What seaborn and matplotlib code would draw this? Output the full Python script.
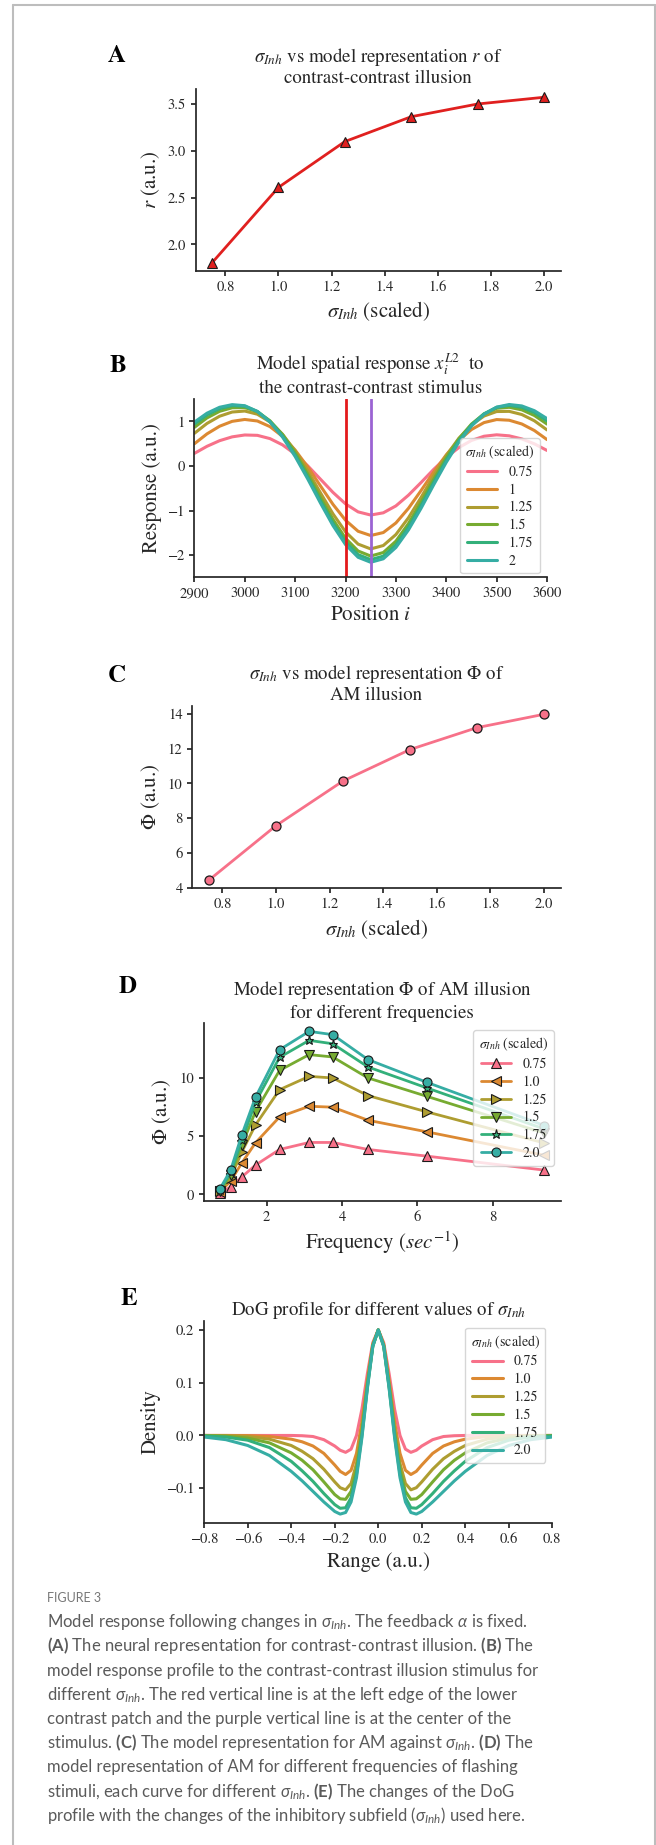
import numpy as np
import pandas as pd
import matplotlib
matplotlib.use("Agg")
import matplotlib.pyplot as plt
import seaborn as sns
from matplotlib.lines import Line2D

# ---------------- data ----------------
sigma_vals = [0.75, 1.0, 1.25, 1.5, 1.75, 2.0]
r_vals = [1.805, 2.611, 3.101, 3.367, 3.503, 3.575]
phi_vals = [4.44, 7.57, 10.14, 11.95, 13.21, 13.98]

sig_labels_B = ["0.75", "1", "1.25", "1.5", "1.75", "2"]
sig_labels = ["0.75", "1.0", "1.25", "1.5", "1.75", "2.0"]

B_x = [2900, 2925, 2950, 2975, 3000, 3025, 3050, 3075, 3100, 3125, 3150, 3175, 3200, 3225, 3250,
       3275, 3300, 3325, 3350, 3375, 3400, 3425, 3450, 3475, 3500, 3525, 3550, 3575, 3600]
B_075 = [0.283, 0.442, 0.568, 0.654, 0.696, 0.688, 0.615, 0.474, 0.267, 0.004, -0.293, -0.591, -0.849, -1.029, -1.100,
         -1.050, -0.895, -0.654, -0.370, -0.076, 0.192, 0.413, 0.573, 0.668, 0.700, 0.677, 0.608, 0.497, 0.349]
B_100 = [0.499, 0.721, 0.892, 1.002, 1.044, 1.010, 0.884, 0.665, 0.358, -0.021, -0.442, -0.859, -1.216, -1.464, -1.559,
         -1.493, -1.278, -0.949, -0.550, -0.135, 0.251, 0.576, 0.818, 0.974, 1.042, 1.027, 0.943, 0.796, 0.593]
B_125 = [0.733, 0.955, 1.117, 1.211, 1.233, 1.162, 0.988, 0.712, 0.339, -0.109, -0.596, -1.072, -1.476, -1.752, -1.860,
         -1.784, -1.538, -1.161, -0.704, -0.222, 0.233, 0.623, 0.921, 1.121, 1.222, 1.226, 1.155, 1.014, 0.810]
B_150 = [0.867, 1.079, 1.227, 1.307, 1.311, 1.217, 1.015, 0.707, 0.301, -0.180, -0.698, -1.195, -1.622, -1.907, -2.020,
         -1.941, -1.687, -1.291, -0.810, -0.300, 0.187, 0.608, 0.940, 1.169, 1.294, 1.317, 1.260, 1.133, 0.941]
B_175 = [0.940, 1.146, 1.286, 1.354, 1.341, 1.225, 1.003, 0.676, 0.251, -0.244, -0.771, -1.277, -1.702, -1.988, -2.100,
         -2.022, -1.767, -1.370, -0.884, -0.366, 0.134, 0.573, 0.922, 1.171, 1.317, 1.360, 1.316, 1.198, 1.012]
B_200 = [0.985, 1.185, 1.318, 1.377, 1.353, 1.224, 0.989, 0.648, 0.213, -0.291, -0.825, -1.335, -1.762, -2.048, -2.160,
         -2.082, -1.828, -1.434, -0.949, -0.423, 0.083, 0.533, 0.896, 1.160, 1.321, 1.380, 1.348, 1.241, 1.064]
B_red_line = 3200
B_purple_line = 3250

D_freq = [0.75, 1.04, 1.34, 1.70, 2.34, 3.125, 3.75, 4.69, 6.25, 9.375]
D_075 = [0.13, 0.64, 1.51, 2.51, 3.85, 4.45, 4.45, 3.85, 3.28, 2.08]
D_100 = [0.20, 1.14, 2.71, 4.42, 6.64, 7.55, 7.47, 6.35, 5.36, 3.35]
D_125 = [0.27, 1.45, 3.65, 5.95, 8.97, 10.11, 9.97, 8.46, 7.07, 4.40]
D_150 = [0.33, 1.68, 4.25, 7.10, 10.62, 11.97, 11.77, 9.97, 8.40, 5.25]
D_175 = [0.38, 1.88, 4.65, 7.90, 11.74, 13.19, 12.90, 10.91, 9.12, 5.60]
D_200 = [0.45, 2.08, 5.13, 8.32, 12.39, 13.96, 13.68, 11.54, 9.60, 5.90]

E_x = [-0.8, -0.7, -0.6, -0.5, -0.4, -0.35, -0.3, -0.25, -0.2, -0.175, -0.15, -0.125, -0.1, -0.075, -0.05, -0.025,
       0.0, 0.025, 0.05, 0.075, 0.1, 0.125, 0.15, 0.175, 0.2, 0.25, 0.3, 0.35, 0.4, 0.5, 0.6, 0.7, 0.8]
E_075 = [0.0, 0.0, 0.0, 0.0, 0.0, -0.0005, -0.002, -0.008, -0.020, -0.028, -0.032, -0.026, 0.000, 0.050, 0.117, 0.176,
         0.200, 0.176, 0.117, 0.050, 0.000, -0.026, -0.032, -0.028, -0.020, -0.008, -0.002, -0.0005, 0.0, 0.0, 0.0, 0.0, 0.0]
E_100 = [0.0, 0.0, -0.0003, -0.002, -0.007, -0.012, -0.020, -0.034, -0.056, -0.068, -0.074, -0.066, -0.034, 0.026, 0.104, 0.173,
         0.200, 0.173, 0.104, 0.026, -0.034, -0.066, -0.074, -0.068, -0.056, -0.034, -0.020, -0.012, -0.007, -0.002, -0.0003, 0.0, 0.0]
E_125 = [0.0, -0.0005, -0.002, -0.007, -0.019, -0.030, -0.044, -0.064, -0.088, -0.099, -0.103, -0.091, -0.053, 0.013, 0.098, 0.171,
         0.200, 0.171, 0.098, 0.013, -0.053, -0.091, -0.103, -0.099, -0.088, -0.064, -0.044, -0.030, -0.019, -0.007, -0.002, -0.0005, 0.0]
E_150 = [-0.0003, -0.0015, -0.005, -0.014, -0.033, -0.047, -0.065, -0.088, -0.112, -0.120, -0.121, -0.106, -0.065, 0.006, 0.094, 0.170,
         0.200, 0.170, 0.094, 0.006, -0.065, -0.106, -0.121, -0.120, -0.112, -0.088, -0.065, -0.047, -0.033, -0.014, -0.005, -0.0015, -0.0003]
E_175 = [-0.001, -0.003, -0.009, -0.023, -0.049, -0.067, -0.087, -0.110, -0.131, -0.138, -0.137, -0.118, -0.074, 0.000, 0.091, 0.169,
         0.200, 0.169, 0.091, 0.000, -0.074, -0.118, -0.137, -0.138, -0.131, -0.110, -0.087, -0.067, -0.049, -0.023, -0.009, -0.003, -0.001]
E_200 = [-0.003, -0.008, -0.019, -0.038, -0.068, -0.086, -0.106, -0.126, -0.144, -0.149, -0.146, -0.126, -0.080, -0.004, 0.089, 0.169,
         0.200, 0.169, 0.089, -0.004, -0.080, -0.126, -0.146, -0.149, -0.144, -0.126, -0.106, -0.086, -0.068, -0.038, -0.019, -0.008, -0.003]

caption_lines = [
    r"Model response following changes in $\sigma_{Inh}$. The feedback $\alpha$ is fixed.",
    r"$\mathbf{(A)}$ The neural representation for contrast-contrast illusion. $\mathbf{(B)}$ The",
    r"model response profile to the contrast-contrast illusion stimulus for",
    r"different $\sigma_{Inh}$. The red vertical line is at the left edge of the lower",
    r"contrast patch and the purple vertical line is at the center of the",
    r"stimulus. $\mathbf{(C)}$ The model representation for AM against $\sigma_{Inh}$. $\mathbf{(D)}$ The",
    r"model representation of AM for different frequencies of flashing",
    r"stimuli, each curve for different $\sigma_{Inh}$. $\mathbf{(E)}$ The changes of the DoG",
    r"profile with the changes of the inhibitory subfield ($\sigma_{Inh}$) used here.",
]

# ---------------- style ----------------
sns.set_theme(style="ticks")
plt.rcParams.update({
    "font.family": ["STIXGeneral", "DejaVu Serif"],
    "mathtext.fontset": "stix",
    "mathtext.rm": "Lato",
    "mathtext.it": "Lato:italic",
    "mathtext.bf": "Lato:bold",
    "xtick.labelsize": 10.5,
    "ytick.labelsize": 10.5,
    "xtick.major.size": 3.5,
    "ytick.major.size": 3.5,
    "legend.fontsize": 10,
    "legend.title_fontsize": 10,
    "legend.labelspacing": 0.32,
    "legend.handlelength": 2.2,
})

TITLE_FS = 13.6
LABEL_FS = 15

pal = sns.color_palette("husl", 10)[:6]
RED = "#e0201f"
PINK = pal[0]

W, H = 656, 1845
fig = plt.figure(figsize=(W / 100, H / 100), dpi=100)


def rect(l, t, r, b):
    return [l / W, 1 - b / H, (r - l) / W, (b - t) / H]


def long_df(xs, series, labels, xname, yname):
    rows = []
    for lab, ys in zip(labels, series):
        for xv, yv in zip(xs, ys):
            rows.append({xname: xv, yname: yv, "sigma": lab})
    return pd.DataFrame(rows)


leg_title = r"$\sigma_{Inh}$ (scaled)"

# ---- Panel A ----
axA = fig.add_axes(rect(195.5, 89, 560.5, 271))
dfA = pd.DataFrame({"s": sigma_vals, "r": r_vals})
sns.lineplot(data=dfA, x="s", y="r", ax=axA, color=RED, lw=2, marker="^", ms=7,
             markeredgecolor="k", markeredgewidth=0.8)
axA.set_xticks([0.8, 1.0, 1.2, 1.4, 1.6, 1.8, 2.0])
axA.set_yticks([2.0, 2.5, 3.0, 3.5])
axA.set_title(r"$\sigma_{Inh}$ vs model representation $r$ of" + "\ncontrast-contrast illusion",
              fontsize=TITLE_FS, pad=4)
axA.set_xlabel(r"$\sigma_{Inh}$ (scaled)", fontsize=LABEL_FS)
axA.set_ylabel(r"$r$ (a.u.)", fontsize=LABEL_FS)

# ---- Panel B ----
axB = fig.add_axes(rect(194.4, 398.7, 547, 577))
dfB = long_df(B_x, [B_075, B_100, B_125, B_150, B_175, B_200], sig_labels_B, "x", "y")
sns.lineplot(data=dfB, x="x", y="y", hue="sigma", hue_order=sig_labels_B, palette=pal,
             lw=2.2, ax=axB)
axB.axvline(B_red_line, color="#e31a1c", lw=2)
axB.axvline(B_purple_line, color="#9b63d3", lw=2)
axB.set_xlim(2900, 3600)
axB.set_ylim(-2.49, 1.51)
axB.set_xticks(list(range(2900, 3601, 100)))
axB.set_yticks([-2, -1, 0, 1])
axB.set_title(r"Model spatial response $x_i^{L2}$  to" + "\nthe contrast-contrast stimulus",
              fontsize=TITLE_FS, pad=4)
axB.set_xlabel(r"Position $i$", fontsize=LABEL_FS)
axB.set_ylabel("Response (a.u.)", fontsize=LABEL_FS)
sns.move_legend(axB, "center right", bbox_to_anchor=(1, 0.40), title=leg_title)

# ---- Panel C ----
axC = fig.add_axes(rect(192.3, 706, 560.7, 888.3))
dfC = pd.DataFrame({"s": sigma_vals, "phi": phi_vals})
sns.lineplot(data=dfC, x="s", y="phi", ax=axC, color=PINK, lw=2, marker="o", ms=6.5,
             markeredgecolor="k", markeredgewidth=0.9)
axC.set_xticks([0.8, 1.0, 1.2, 1.4, 1.6, 1.8, 2.0])
axC.set_yticks([4, 6, 8, 10, 12, 14])
axC.set_title(r"$\sigma_{Inh}$ vs model representation $\Phi$ of" + "\nAM illusion",
              fontsize=TITLE_FS, pad=4)
axC.set_xlabel(r"$\sigma_{Inh}$ (scaled)", fontsize=LABEL_FS)
axC.set_ylabel(r"$\Phi$ (a.u.)", fontsize=LABEL_FS)

# ---- Panel D ----
axD = fig.add_axes(rect(203.5, 1023.3, 560.7, 1201))
dfD = long_df(D_freq, [D_075, D_100, D_125, D_150, D_175, D_200], sig_labels, "f", "phi")
sns.lineplot(data=dfD, x="f", y="phi", hue="sigma", style="sigma", hue_order=sig_labels,
             style_order=sig_labels, markers=["^", "<", ">", "v", "*", "o"], dashes=False,
             palette=pal, lw=2, ms=6.5, markeredgecolor="k", markeredgewidth=0.8, ax=axD)
axD.set_xticks([2, 4, 6, 8])
axD.set_yticks([0, 5, 10])
axD.set_title(r"Model representation $\Phi$ of AM illusion" + "\nfor different frequencies",
              fontsize=TITLE_FS, pad=4)
axD.set_xlabel(r"Frequency ($sec^{-1}$)", fontsize=LABEL_FS)
axD.set_ylabel(r"$\Phi$ (a.u.)", fontsize=LABEL_FS)
sns.move_legend(axD, "upper right", title=leg_title)

# ---- Panel E ----
axE = fig.add_axes(rect(204.2, 1320.7, 552.3, 1523.3))
dfE = long_df(E_x, [E_075, E_100, E_125, E_150, E_175, E_200], sig_labels, "x", "d")
sns.lineplot(data=dfE, x="x", y="d", hue="sigma", hue_order=sig_labels, palette=pal,
             lw=2.2, ax=axE)
axE.set_xlim(-0.8, 0.8)
axE.set_xticks([-0.8, -0.6, -0.4, -0.2, 0.0, 0.2, 0.4, 0.6, 0.8])
axE.set_yticks([-0.1, 0.0, 0.1, 0.2])
axE.set_title(r"DoG profile for different values of $\sigma_{Inh}$", fontsize=TITLE_FS, pad=4)
axE.set_xlabel("Range (a.u.)", fontsize=LABEL_FS)
axE.set_ylabel("Density", fontsize=LABEL_FS)
sns.move_legend(axE, "upper right", title=leg_title)

for ax in [axA, axB, axC, axD, axE]:
    sns.despine(ax=ax)

# ---- panel letters ----
for lab, x, y in [("A", 108, 62), ("B", 109.6, 371.7), ("C", 108, 682.3),
                  ("D", 119, 993.3), ("E", 121, 1305)]:
    fig.text(x / W, 1 - y / H, lab, fontsize=18, fontweight="bold",
             family="STIXGeneral", ha="left", va="baseline", color="black")

# ---- caption ----
fig.text(46.9 / W, 1 - 1602 / H, "FIGURE 3", fontsize=9, family="Lato",
         color="#777777", ha="left", va="baseline")
for i, line in enumerate(caption_lines):
    yb = 1621.7 + 24.2 * i + 5.5
    fig.text(46.9 / W, 1 - yb / H, line, fontsize=12, family="Lato", color="#5a5a5a",
             ha="left", va="baseline", math_fontfamily="custom")

# ---- frame ----
fr = "#bdbdbd"
fig.add_artist(Line2D([12.7 / W, 12.7 / W], [0, 1 - 5 / H], transform=fig.transFigure, color=fr, lw=1.5))
fig.add_artist(Line2D([12.7 / W, 655 / W], [1 - 5 / H, 1 - 5 / H], transform=fig.transFigure, color=fr, lw=1.5))
fig.add_artist(Line2D([655 / W, 655 / W], [0, 1 - 5 / H], transform=fig.transFigure, color=fr, lw=1.5))

fig.savefig("out.png", dpi=100)
